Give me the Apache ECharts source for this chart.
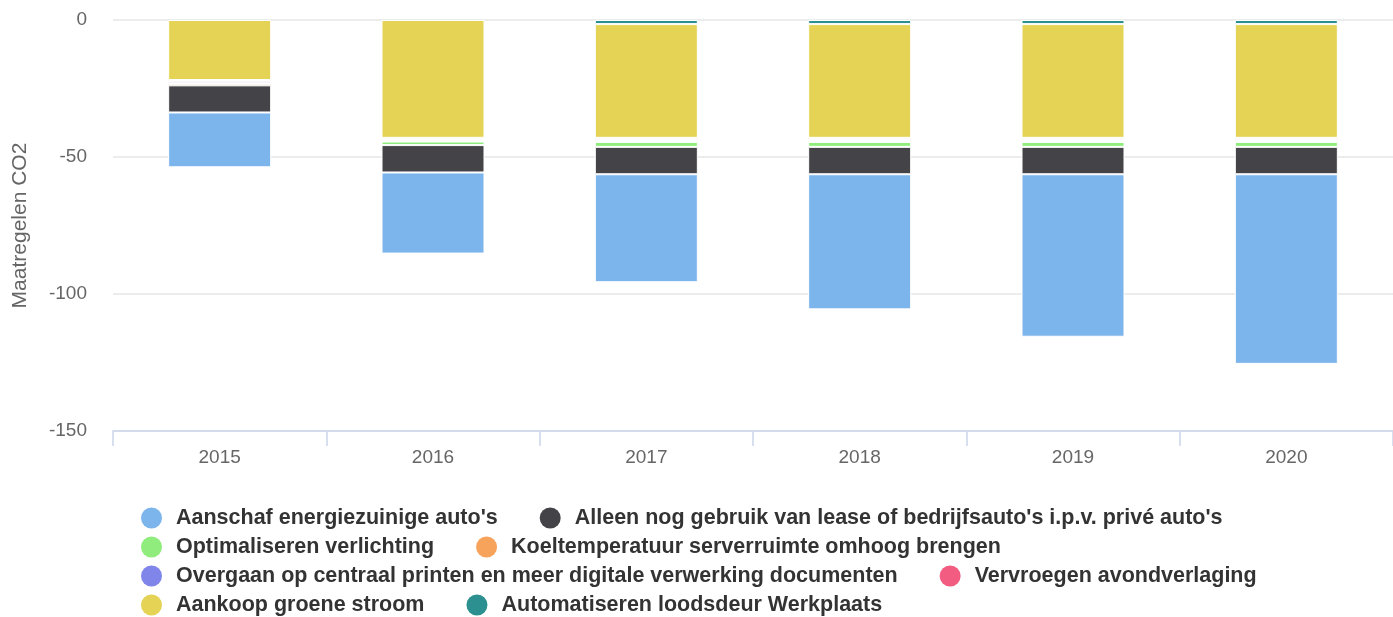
<!DOCTYPE html>
<html>
<head>
<meta charset="utf-8">
<title>Maatregelen CO2</title>
<script src="https://cdn.jsdelivr.net/npm/echarts@6/dist/echarts.min.js"></script>
<style>
  html, body { margin: 0; padding: 0; background: #fff; }
  #chart { width: 1393px; height: 617px; }
</style>
</head>
<body>
<div id="chart"></div>
<script>
// categories
const years = ['2015', '2016', '2017', '2018', '2019', '2020'];

// series values (ton CO2 reduction, negative)
const aanschafAutos = [-20, -29.6, -39.4, -49.3, -59.3, -69.2];
const leaseAutos = [-9.9, -10, -10, -10, -10, -10];
const verlichting = [null, -1.3, -1.8, -1.8, -1.8, -1.8];
const koeltemperatuur = [-0.65, -0.45, -0.5, -0.5, -0.5, -0.5];
const centraalPrinten = [-0.65, -0.45, -0.5, -0.5, -0.5, -0.5];
const avondverlaging = [-0.65, -0.45, -0.5, -0.5, -0.5, -0.5];
const groeneStroom = [-21.9, -43, -41.5, -41.5, -41.5, -41.5];
const loodsdeur = [null, null, -1.5, -1.5, -1.5, -1.5];

// legend order
const legendNames = [
  "Aanschaf energiezuinige auto's",
  "Alleen nog gebruik van lease of bedrijfsauto's i.p.v. privé auto's",
  'Optimaliseren verlichting',
  'Koeltemperatuur serverruimte omhoog brengen',
  'Overgaan op centraal printen en meer digitale verwerking documenten',
  'Vervroegen avondverlaging',
  'Aankoop groene stroom',
  'Automatiseren loodsdeur Werkplaats'
];
const colors = ['#7cb5ec', '#434348', '#90ed7d', '#f7a35c', '#8085e9', '#f15c80', '#e4d354', '#2b908f'];
const values = [aanschafAutos, leaseAutos, verlichting, koeltemperatuur, centraalPrinten, avondverlaging, groeneStroom, loodsdeur];

const font = "'Liberation Sans', Helvetica, Arial, sans-serif";

// stack from zero outwards: last legend item sits closest to the axis
const series = [];
for (let i = legendNames.length - 1; i >= 0; i--) {
  series.push({
    name: legendNames[i],
    type: 'bar',
    stack: 'co2',
    barWidth: 103,
    data: values[i],
    itemStyle: { color: colors[i], borderColor: '#ffffff', borderWidth: 1 }
  });
}

const chart = echarts.init(document.getElementById('chart'));
chart.setOption({
  animation: false,
  textStyle: { fontFamily: font },
  grid: { left: 113, right: 0, top: 20, bottom: 186 },
  legend: {
    data: legendNames,
    left: 141,
    top: 503.5,
    width: 1220,
    padding: 0,
    itemGap: 0,
    icon: 'circle',
    itemWidth: 21,
    itemHeight: 21,
    itemStyle: { borderWidth: 0 },
    textStyle: {
      fontFamily: font,
      fontSize: 21.5,
      fontWeight: 'bold',
      color: '#333333',
      lineHeight: 21,
      padding: [4, 42, 4, 9]
    }
  },
  xAxis: {
    type: 'category',
    data: years,
    position: 'bottom',
    axisLine: { onZero: false, lineStyle: { color: '#ccd6eb', width: 1.5 } },
    axisTick: { show: true, length: 15, lineStyle: { color: '#ccd6eb', width: 1.5 } },
    axisLabel: { color: '#666666', fontSize: 19, margin: 17, fontFamily: font },
    splitLine: { show: false }
  },
  yAxis: {
    type: 'value',
    min: -150,
    max: 0,
    interval: 50,
    name: 'Maatregelen CO2',
    nameLocation: 'middle',
    nameGap: 82,
    nameTextStyle: { color: '#666666', fontSize: 21, fontFamily: font },
    axisLine: { show: false },
    axisTick: { show: false },
    axisLabel: { color: '#666666', fontSize: 19, margin: 26, fontFamily: font },
    splitLine: { lineStyle: { color: '#e6e6e6', width: 1.5 } }
  },
  series: series
});
window.addEventListener('resize', () => {
  chart.resize();
});
</script>
</body>
</html>
